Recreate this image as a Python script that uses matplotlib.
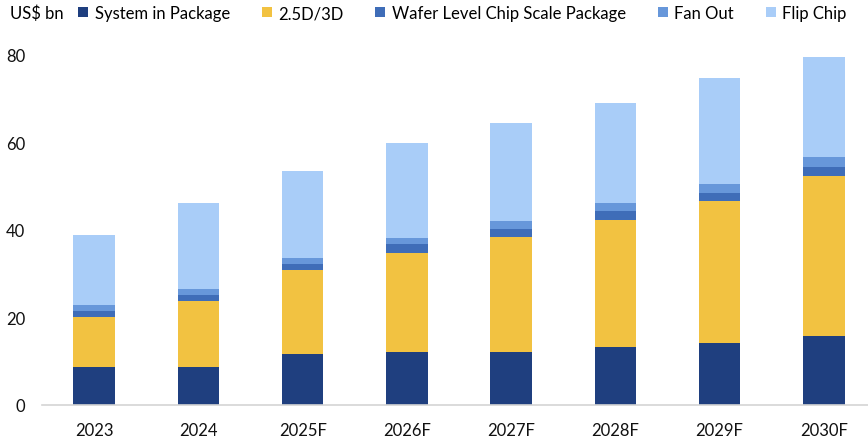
import numpy as np
import matplotlib.pyplot as plt

plt.rcParams['font.family'] = ['Lato', 'DejaVu Sans']

# data (US$ bn)
years = ["2023", "2024", "2025F", "2026F", "2027F", "2028F", "2029F", "2030F"]
sip = [8.6, 8.6, 11.7, 12.2, 12.2, 13.2, 14.2, 15.7]
d25_3d = [11.6, 15.1, 19.1, 22.6, 26.1, 29.2, 32.4, 36.7]
wlcsp = [1.3, 1.4, 1.5, 1.9, 1.9, 1.9, 1.9, 2.0]
fan_out = [1.3, 1.5, 1.4, 1.5, 1.9, 1.8, 2.1, 2.2]
flip_chip = [16.1, 19.6, 19.7, 21.7, 22.4, 23.0, 24.1, 23.0]

series = [
    ("System in Package", sip, "#1f3f7f"),
    ("2.5D/3D", d25_3d, "#f2c241"),
    ("Wafer Level Chip Scale Package", wlcsp, "#3f6db8"),
    ("Fan Out", fan_out, "#6797da"),
    ("Flip Chip", flip_chip, "#a9cdf8"),
]

fig = plt.figure(figsize=(8.68, 4.39), dpi=100)
ax = fig.add_axes([42 / 868, 33 / 439, 834 / 868, 350 / 439])

x = np.arange(len(years))
bottom = np.zeros(len(years))
for name, vals, color in series:
    ax.bar(x, vals, width=0.4, bottom=bottom, color=color, label=name, edgecolor="none")
    bottom += np.array(vals)

ax.set_xlim(-0.5, 7.5)
ax.set_ylim(0, 80)
ax.set_yticks([0, 20, 40, 60, 80])
ax.set_xticks(x)
ax.set_xticklabels(years)
ax.tick_params(axis="both", length=0, labelsize=12, colors="#111111")
ax.tick_params(axis="y", pad=12)
ax.tick_params(axis="x", pad=12)

for s in ["top", "right", "left"]:
    ax.spines[s].set_visible(False)
ax.spines["bottom"].set_color("#d4d4d4")
ax.spines["bottom"].set_linewidth(1.2)

fig.text(10 / 868, 1 - 14 / 439, "US$ bn", fontsize=12, va="center", ha="left")
ax.legend(loc="center left", bbox_to_anchor=(78 / 868, 1 - 14 / 439),
          bbox_transform=fig.transFigure, ncol=5, frameon=False, fontsize=12,
          handlelength=0.6, handleheight=0.6, handletextpad=0.4,
          columnspacing=1.9, borderpad=0, borderaxespad=0)

fig.savefig("out.png", dpi=100)
